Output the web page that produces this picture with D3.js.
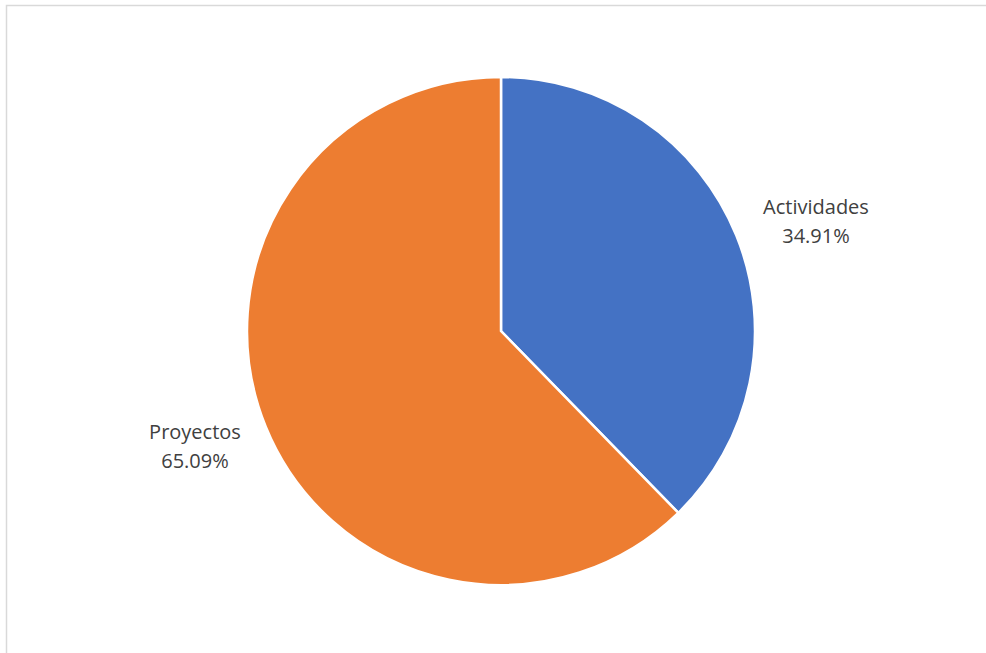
<!DOCTYPE html>
<html><head><meta charset="utf-8">
<script src="https://cdn.jsdelivr.net/npm/d3@7"></script>
<style>html,body{margin:0;padding:0;background:#fff;overflow:hidden}</style>
</head><body>
<svg id="chart" width="986" height="653"></svg>
<script>
const categories = ["Actividades", "Proyectos"];
// slice sizes as drawn in the picture (estimated from geometry)
const sliceValues = [37.7, 62.3];
// percentage labels as printed on the chart
const percentLabels = ["34.91%", "65.09%"];
const colors = ["#4472C4", "#ED7D31"];

const svg = d3.select("#chart");
// chart frame (only top and left edges visible)
svg.append("path").attr("d", "M6.5,653 L6.5,5.5 L986,5.5")
  .attr("fill", "none").attr("stroke", "#d9d9d9").attr("stroke-width", 1.5);

const cx = 501, cy = 331, r = 254;
const g = svg.append("g").attr("transform", `translate(${cx},${cy})`);
const pie = d3.pie().sort(null).value(d => d)(sliceValues);
const arc = d3.arc().innerRadius(0).outerRadius(r);
g.selectAll("path.slice").data(pie).join("path")
  .attr("class", "slice")
  .attr("d", arc)
  .attr("fill", (d, i) => colors[i])
  .attr("stroke", "#fff").attr("stroke-width", 2.5).attr("stroke-linejoin", "miter");

const labelPos = [[816, 214], [195, 439]];
const lab = svg.selectAll("text.lab").data(categories).join("text")
  .attr("class", "lab")
  .attr("x", (d, i) => labelPos[i][0])
  .attr("y", (d, i) => labelPos[i][1])
  .attr("text-anchor", "middle")
  .attr("font-family", "'Open Sans', 'Noto Sans', sans-serif")
  .attr("font-size", 20)
  .attr("fill", "#404040");
lab.append("tspan").attr("x", (d, i) => labelPos[i][0]).text(d => d);
lab.append("tspan").attr("x", (d, i) => labelPos[i][0]).attr("dy", 29).text((d, i) => percentLabels[i]);
</script>
</body></html>
